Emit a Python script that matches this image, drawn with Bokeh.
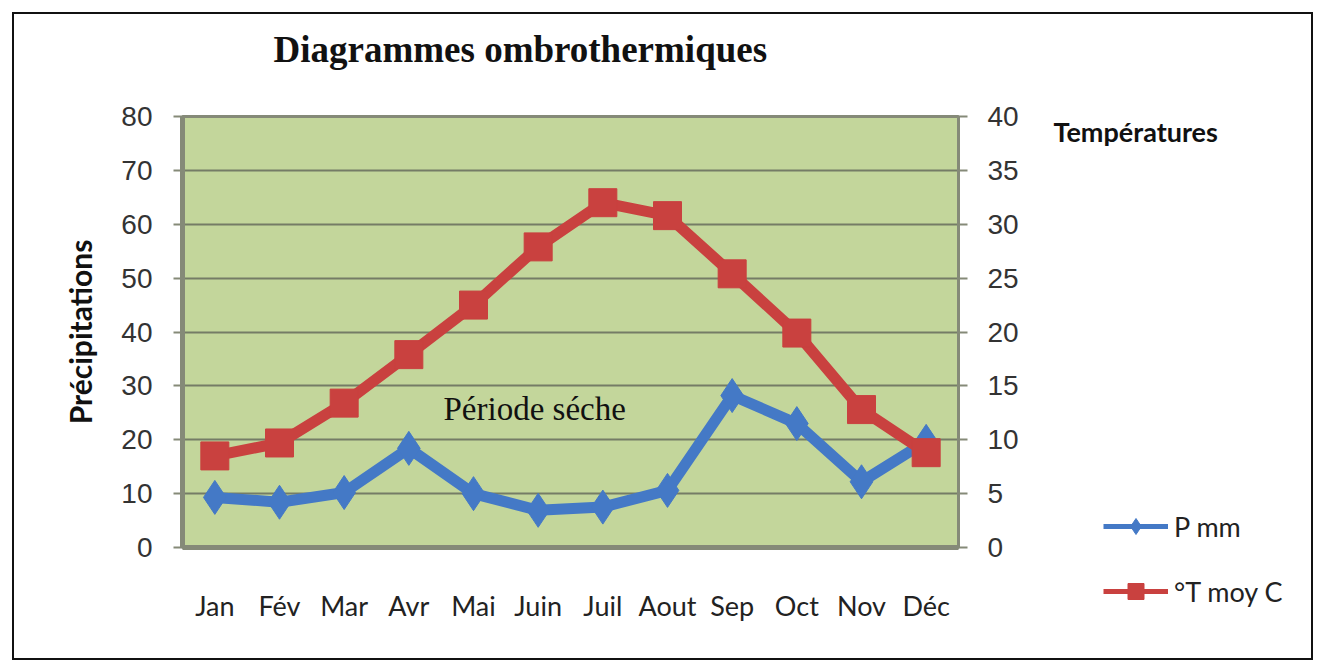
from bokeh.plotting import figure
from bokeh.layouts import row, column
from bokeh.models import (Range1d, LinearAxis, FixedTicker, Label, Legend, LegendItem,
                          ColumnDataSource, FactorRange, Title)
from bokeh.embed import file_html
from bokeh.resources import INLINE

months = ["Jan", "Fév", "Mar", "Avr", "Mai", "Juin", "Juil", "Aout", "Sep", "Oct", "Nov", "Déc"]
precip = [9.3, 8.4, 10.2, 18.4, 10.0, 6.9, 7.5, 10.6, 28.2, 23.0, 12.2, 19.7]
temp = [8.5, 9.7, 13.4, 17.9, 22.5, 27.9, 32.0, 30.8, 25.4, 19.9, 12.8, 8.8]
left_ticks = [0, 10, 20, 30, 40, 50, 60, 70, 80]
right_ticks = [0, 5, 10, 15, 20, 25, 30, 35, 40]

BLUE = "#4479c6"
RED = "#c9413f"
GREEN = "#c3d69b"
GRID = "#757c66"
AXIS = "#858a78"
EDGE = "2px solid #111111"

src = ColumnDataSource(dict(m=months, p=precip, t=temp))

p = figure(width=1028, height=648, x_range=FactorRange(*months), y_range=Range1d(0, 80),
           output_backend="svg", toolbar_location=None, margin=(12, 0, 12, 12),
           min_border_left=168, min_border_right=84, min_border_top=102, min_border_bottom=115)
p.styles = {"border-left": EDGE, "border-top": EDGE, "border-bottom": EDGE}
p.background_fill_color = GREEN
p.border_fill_color = "white"
p.outline_line_color = AXIS
p.outline_line_width = 3

p.title.text = "Diagrammes ombrothermiques"
p.title.align = "left"
p.title.offset = 91
p.title.standoff = 0
p.title.text_font = "Liberation Serif"
p.title.text_font_style = "bold"
p.title.text_font_size = "37px"
p.title.text_color = "#111111"
# blank spacer between the title and the plot area
p.add_layout(Title(text=" ", text_font_size="10px", standoff=34), "above")

p.extra_y_ranges = {"temp": Range1d(0, 40)}

# left axis
ya = p.yaxis[0]
ya.ticker = FixedTicker(ticks=left_ticks)
ya.axis_label = "Précipitations"
ya.axis_label_text_font = "Lato"
ya.axis_label_text_font_style = "bold"
ya.axis_label_text_font_size = "30px"
ya.axis_label_text_color = "#111111"
ya.axis_label_standoff = 20
ya.major_label_text_font = "Liberation Sans"
ya.major_label_text_font_size = "28px"
ya.major_label_text_color = "#333333"
ya.major_label_standoff = 21
ya.axis_line_color = AXIS
ya.axis_line_width = 5
ya.major_tick_line_color = AXIS
ya.major_tick_line_width = 2
ya.major_tick_out = 9
ya.major_tick_in = 0
ya.minor_tick_line_color = None

# right axis
ra = LinearAxis(y_range_name="temp", ticker=FixedTicker(ticks=right_ticks))
ra.major_label_text_font = "Liberation Sans"
ra.major_label_text_font_size = "28px"
ra.major_label_text_color = "#333333"
ra.major_label_standoff = 20
ra.axis_line_color = AXIS
ra.axis_line_width = 3
ra.major_tick_line_color = AXIS
ra.major_tick_line_width = 2
ra.major_tick_out = 9
ra.major_tick_in = 0
ra.minor_tick_line_color = None
p.add_layout(ra, "right")

# x axis
xa = p.xaxis[0]
xa.major_label_text_font = "Lato"
xa.major_label_text_font_size = "27px"
xa.major_label_text_color = "#222222"
xa.major_label_standoff = 35
xa.major_tick_line_color = None
xa.axis_line_color = AXIS
xa.axis_line_width = 5

p.xgrid.grid_line_color = None
p.ygrid.ticker = FixedTicker(ticks=left_ticks)
p.ygrid.grid_line_color = GRID
p.ygrid.grid_line_width = 2

# series
p.line("m", "p", source=src, line_color=BLUE, line_width=11, line_join="round")
p.scatter("m", "p", source=src, marker="diamond", size=34, fill_color=BLUE, line_color=BLUE)
p.line("m", "t", source=src, y_range_name="temp", line_color=RED, line_width=11, line_join="round")
p.scatter("m", "t", source=src, y_range_name="temp", marker="square", size=28,
          fill_color=RED, line_color=RED)

p.add_layout(Label(x=261, y=139, x_units="screen", y_units="screen", text="Période séche",
                   text_font="Liberation Serif", text_font_size="33px",
                   text_color="#111111", text_baseline="middle"))

# side panel: heading and legend
s = figure(width=273, height=648, x_range=Range1d(0, 1), y_range=Range1d(0, 1),
           output_backend="svg", toolbar_location=None, margin=(12, 14, 12, 0),
           x_axis_location=None, y_axis_location=None,
           min_border_left=0, min_border_right=0, min_border_top=0, min_border_bottom=0)
s.styles = {"border-right": EDGE, "border-top": EDGE, "border-bottom": EDGE}
s.background_fill_color = "white"
s.border_fill_color = "white"
s.outline_line_color = None
s.xgrid.visible = False
s.ygrid.visible = False

# legend proxies: the data lie outside this panel's 0..1 ranges, so only the legend shows them
proxy = ColumnDataSource(dict(x=temp, y=precip))
lb = s.line("x", "y", source=proxy, line_color=BLUE, line_width=5)
mb = s.scatter("x", "y", source=proxy, marker="diamond", size=18, fill_color=BLUE, line_color=BLUE)
lr = s.line("x", "y", source=proxy, line_color=RED, line_width=5)
mr = s.scatter("x", "y", source=proxy, marker="square", size=18, fill_color=RED, line_color=RED)

legend = Legend(items=[LegendItem(label="P mm", renderers=[lb, mb]),
                       LegendItem(label="°T moy C", renderers=[lr, mr])],
                location=(63, 51), orientation="vertical",
                glyph_width=65, glyph_height=40, spacing=25, padding=10,
                label_text_font="Lato", label_text_font_size="27px", label_text_color="#222222",
                label_standoff=6, border_line_color=None, background_fill_alpha=0)
s.add_layout(legend, "center")

s.add_layout(Label(x=13, y=531, x_units="screen", y_units="screen", text="Températures",
                   text_font="Lato", text_font_style="bold", text_font_size="27px",
                   text_color="#111111", text_baseline="middle"))

layout = row(p, column(s))
open("out.html", "w").write(file_html(layout, INLINE))
